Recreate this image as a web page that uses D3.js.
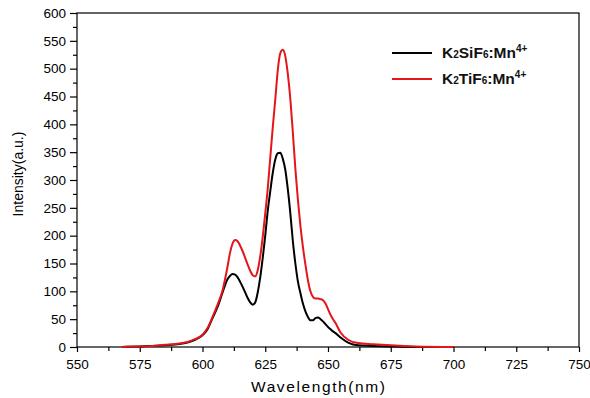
<!DOCTYPE html>
<html><head><meta charset="utf-8">
<script src="https://cdn.jsdelivr.net/npm/d3@7"></script>
<style>body{margin:0;background:#fff}svg{display:block}</style>
</head><body>
<svg id="c" width="590" height="398"></svg>
<script>
const wavelengths = [568,575,580,585,590,594,597,600,602,604,606,608,610,611,612,613,614,615,616,617,618,619,620,621,622,623,624,625,626,627,628,629,630,631,632,633,634,635,636,637,638,639,640,641,642,643,644,645,646,647,648,649,650,651,652,653,655,658,662,668,675,685,700];
const k2sif6 = [0,1,2,3,5,8,13,21,32,52,72,98,122,128,131,130,125,117,108,98,88,80,76,80,98,125,160,200,245,280,313,337,348,349,338,318,283,240,190,150,118,97,78,64,54,48,48,52,53,50,46,41,36,32,28,25,17,8,3,2,1,0,0];
const k2tif6 = [0,1,2,4,6,9,14,22,34,54,76,102,145,170,186,192,190,182,172,160,148,137,129,127,138,163,198,240,285,340,395,445,498,528,534,522,490,445,385,320,265,218,180,148,120,100,90,87,87,86,84,78,68,58,50,43,26,13,7,5,3,1,0];
const seriesNames = ["K2SiF6:Mn4+","K2TiF6:Mn4+"];
const xTicks = [550,575,600,625,650,675,700,725,750];
const yTicks = [0,50,100,150,200,250,300,350,400,450,500,550,600];

const svg = d3.select("#c");
const L=77,R=579,T=13,B=347;
const x = d3.scaleLinear().domain([550,750]).range([L,R]);
const y = d3.scaleLinear().domain([0,600]).range([B,T]);
const font = "Liberation Sans, Arial, sans-serif";

// frame
svg.append("rect").attr("x",L).attr("y",T).attr("width",R-L).attr("height",B-T)
  .attr("fill","none").attr("stroke","#000").attr("stroke-width",1.2);

// minor ticks
const xMinor = d3.range(562.5,750,25);
const yMinor = d3.range(25,600,50);
const xa = svg.append("g").attr("transform",`translate(0,${B})`);
xa.call(d3.axisBottom(x).tickValues(xMinor).tickSize(4).tickFormat(""));
xa.append("g").call(d3.axisBottom(x).tickValues(xTicks).tickSize(5).tickFormat(d3.format("d")));
const ya = svg.append("g").attr("transform",`translate(${L},0)`);
ya.call(d3.axisLeft(y).tickValues(yMinor).tickSize(4).tickFormat(""));
ya.append("g").call(d3.axisLeft(y).tickValues(yTicks).tickSize(7).tickFormat(d3.format("d")));
svg.selectAll(".domain").remove();
svg.selectAll(".tick line").attr("stroke","#000").attr("stroke-width",1.2);
svg.selectAll(".tick text").attr("font-family",font).attr("font-size",13.5).attr("fill","#000");
xa.selectAll(".tick text").attr("dy","1.0em");
ya.selectAll(".tick text").attr("dx","-1");

// lines
const line = d3.line().x((d,i)=>x(wavelengths[i])).y(d=>y(d)).curve(d3.curveMonotoneX);
const colors = ["#000000","#e3161b"];
[k2sif6,k2tif6].forEach((s,i)=>{
  svg.append("path").attr("d",line(s)).attr("fill","none").attr("stroke",colors[i]).attr("stroke-width",2);
});

// axis titles
svg.append("text").attr("x",251).attr("y",392).attr("font-family",font).attr("font-size",15.5)
  .attr("letter-spacing","1.6px").text("Wavelength(nm)");
svg.append("text").attr("transform","translate(23,174) rotate(-90)").attr("text-anchor","middle")
  .attr("font-family",font).attr("font-size",14).text("Intensity(a.u.)");

// legend
const lg = svg.append("g");
const legendY = [53,79];
seriesNames.forEach((n,i)=>{
  lg.append("line").attr("x1",392).attr("x2",432).attr("y1",legendY[i]).attr("y2",legendY[i])
    .attr("stroke",colors[i]).attr("stroke-width",2);
  const t = lg.append("text").attr("x",442).attr("y",legendY[i]+5).attr("font-family",font)
    .attr("font-size",15.5).attr("font-weight","bold").attr("fill","#111");
  const m = n.match(/^K(2)(\w+)F(6):Mn(4\+)$/);
  t.append("tspan").text("K");
  t.append("tspan").attr("font-size",10).text(m[1]);
  t.append("tspan").text(m[2]+"F");
  t.append("tspan").attr("font-size",10).text(m[3]);
  t.append("tspan").text(":Mn");
  t.append("tspan").attr("font-size",10).attr("dy",-6).text(m[4]);
});
</script>
</body></html>
